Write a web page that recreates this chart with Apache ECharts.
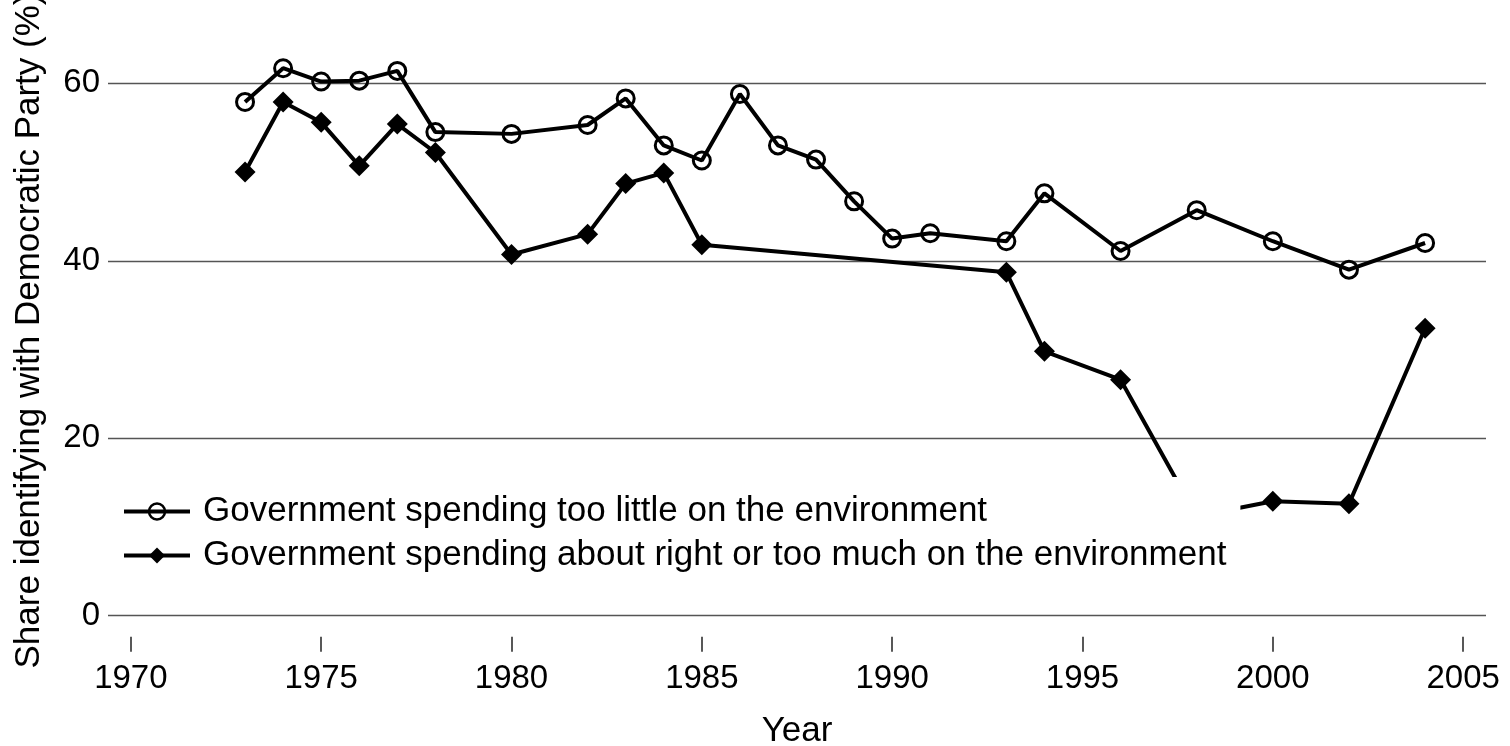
<!DOCTYPE html>
<html>
<head>
<meta charset="utf-8">
<script src="https://cdn.jsdelivr.net/npm/echarts@6/dist/echarts.min.js"></script>
<style>
  html, body { margin: 0; padding: 0; background: #fff; }
  #main { width: 1510px; height: 746px; }
</style>
</head>
<body>
<div id="main"></div>
<script>
var xTicks = [1970, 1975, 1980, 1985, 1990, 1995, 2000, 2005];
var yTicks = [0, 20, 40, 60];

var tooLittleYears = [1973, 1974, 1975, 1976, 1977, 1978, 1980, 1982, 1983, 1984, 1985, 1986, 1987, 1988, 1989, 1990, 1991, 1993, 1994, 1996, 1998, 2000, 2002, 2004];
var tooLittleVals = [57.9, 61.7, 60.2, 60.3, 61.4, 54.5, 54.3, 55.3, 58.3, 53.0, 51.3, 58.8, 53.0, 51.4, 46.7, 42.5, 43.1, 42.2, 47.6, 41.1, 45.7, 42.2, 39.0, 42.0];

var aboutRightYears = [1973, 1974, 1975, 1976, 1977, 1978, 1980, 1982, 1983, 1984, 1985, 1993, 1994, 1996, 1998, 2000, 2002, 2004];
var aboutRightVals = [50.0, 57.9, 55.6, 50.7, 55.4, 52.2, 40.7, 43.0, 48.7, 49.9, 41.8, 38.7, 29.8, 26.6, 11.2, 12.9, 12.6, 32.4];

var seriesNames = [
    'Government spending too little on the environment',
    'Government spending about right or too much on the environment'
];

function pairs(xs, ys) {
    var out = [];
    for (var i = 0; i < xs.length; i++) out.push([xs[i], ys[i]]);
    return out;
}

var font = "'Liberation Sans', Arial, sans-serif";
var chart = echarts.init(document.getElementById('main'), null, {renderer: 'canvas'});

// gridlines drawn as markLines so the x axis can sit a little below y = 0
var gridLines = yTicks.map(function (v) { return {yAxis: v}; });

chart.setOption({
    animation: false,
    backgroundColor: '#fff',
    textStyle: {fontFamily: font, color: '#000'},
    grid: {left: 108, right: 24, top: 83.3, bottom: 109.3, containLabel: false, outerBoundsMode: 'none'},
    legend: {
        orient: 'vertical',
        left: 110,
        top: 477,
        z: 10,
        backgroundColor: '#fff',
        padding: [17, 14, 10, 12],
        itemWidth: 66,
        itemHeight: 20,
        itemGap: 9,
        lineStyle: {width: 4},
        data: [
            {name: seriesNames[0], itemStyle: {borderWidth: 2.5}},
            {name: seriesNames[1]}
        ],
        textStyle: {fontSize: 35, color: '#000', fontFamily: font, padding: [0, 0, 0, 8]}
    },
    xAxis: {
        type: 'value',
        min: 1969.4,
        max: 2005.6,
        name: 'Year',
        nameLocation: 'middle',
        nameGap: 77,
        nameTextStyle: {fontSize: 35, color: '#000', fontFamily: font},
        axisLine: {show: false, onZero: false},
        axisTick: {show: true, inside: false, length: 15, customValues: xTicks, lineStyle: {color: '#222', width: 1.5}},
        axisLabel: {
            fontSize: 33, color: '#000', margin: 26, customValues: xTicks, fontFamily: font,
            formatter: function (v) { return String(v); }
        },
        splitLine: {show: false}
    },
    yAxis: {
        type: 'value',
        min: -2.37,
        max: 60,
        name: 'Share identifying with Democratic Party (%)',
        nameLocation: 'middle',
        nameRotate: 90,
        nameGap: 61,
        nameTextStyle: {fontSize: 35, color: '#000', fontFamily: font, padding: [0, 0, 0, 58]},
        axisLine: {show: false, onZero: false},
        axisTick: {show: false},
        axisLabel: {fontSize: 33, color: '#000', margin: 8, fontFamily: font, customValues: yTicks},
        splitLine: {show: false}
    },
    series: [
        {
            name: seriesNames[0],
            type: 'line',
            z: 3,
            data: pairs(tooLittleYears, tooLittleVals),
            clip: false,
            symbol: 'circle',
            symbolSize: 17,
            lineStyle: {color: '#000', width: 4},
            itemStyle: {color: 'rgba(255,255,255,0)', borderColor: '#000', borderWidth: 3},
            markLine: {
                silent: true,
                z: 1,
                symbol: ['none', 'none'],
                label: {show: false},
                lineStyle: {color: '#555', width: 1.3, type: 'solid'},
                emphasis: {disabled: true},
                data: gridLines
            }
        },
        {
            name: seriesNames[1],
            type: 'line',
            z: 3,
            data: pairs(aboutRightYears, aboutRightVals),
            clip: false,
            symbol: 'diamond',
            symbolSize: 21,
            lineStyle: {color: '#000', width: 4},
            itemStyle: {color: '#000', borderColor: '#000', borderWidth: 0}
        }
    ]
});
</script>
</body>
</html>
